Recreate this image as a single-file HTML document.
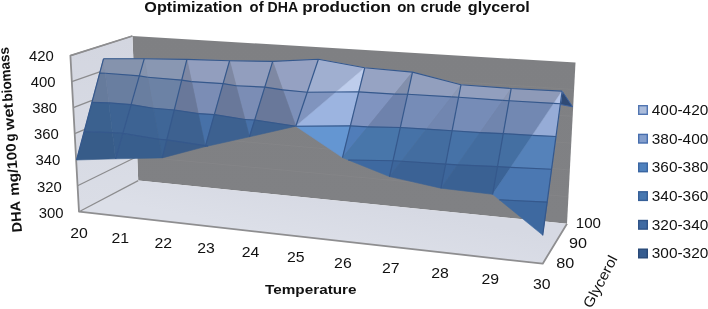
<!DOCTYPE html>
<html><head><meta charset="utf-8"><title>Optimization of DHA production on crude glycerol</title>
<style>html,body{margin:0;padding:0;background:#fff}svg{display:block}text{fill:#111}</style></head>
<body>
<svg width="708" height="309" viewBox="0 0 708 309">
<defs>
<linearGradient id="gbw" gradientUnits="userSpaceOnUse" x1="350" y1="40" x2="340" y2="215"><stop offset="0" stop-color="#7f8083"/><stop offset="1" stop-color="#808184"/></linearGradient>
<linearGradient id="gsw" gradientUnits="userSpaceOnUse" x1="100" y1="40" x2="108" y2="205"><stop offset="0" stop-color="#d3d6e0"/><stop offset="1" stop-color="#dadde6"/></linearGradient>
<linearGradient id="gfl" gradientUnits="userSpaceOnUse" x1="340" y1="195" x2="330" y2="245"><stop offset="0" stop-color="#d6d9e3"/><stop offset="1" stop-color="#dcdfe8"/></linearGradient>
</defs>
<rect width="708" height="309" fill="#fff"/>
<polygon points="132.4,36.0 575.5,62.6 567,223.7 138.2,180.6" fill="url(#gbw)"/>
<polygon points="70.4,55.6 132.4,36.0 138.2,180.6 79.0,211.7" fill="url(#gsw)"/>
<polygon points="79.0,211.7 138.2,180.6 567,223.7 542.7,263.7" fill="url(#gfl)"/>
<line x1="70.4" y1="55.6" x2="132.4" y2="36.0" stroke="#8c8c8e" stroke-width="1.25"/>
<line x1="71.8" y1="81.6" x2="133.4" y2="60.1" stroke="#8c8c8e" stroke-width="1.25"/>
<line x1="133.4" y1="60.1" x2="574.1" y2="89.5" stroke="#a0a0a3" stroke-opacity="0.13" stroke-width="1"/>
<line x1="73.3" y1="107.6" x2="134.3" y2="84.2" stroke="#8c8c8e" stroke-width="1.25"/>
<line x1="134.3" y1="84.2" x2="572.7" y2="116.3" stroke="#a0a0a3" stroke-opacity="0.13" stroke-width="1"/>
<line x1="74.7" y1="133.7" x2="135.3" y2="108.3" stroke="#8c8c8e" stroke-width="1.25"/>
<line x1="135.3" y1="108.3" x2="571.2" y2="143.2" stroke="#a0a0a3" stroke-opacity="0.13" stroke-width="1"/>
<line x1="76.1" y1="159.7" x2="136.3" y2="132.4" stroke="#8c8c8e" stroke-width="1.25"/>
<line x1="136.3" y1="132.4" x2="569.8" y2="170.0" stroke="#a0a0a3" stroke-opacity="0.13" stroke-width="1"/>
<line x1="77.6" y1="185.7" x2="137.2" y2="156.5" stroke="#8c8c8e" stroke-width="1.25"/>
<line x1="137.2" y1="156.5" x2="568.4" y2="196.8" stroke="#a0a0a3" stroke-opacity="0.13" stroke-width="1"/>
<line x1="79.0" y1="211.7" x2="138.2" y2="180.6" stroke="#8c8c8e" stroke-width="1.25"/>
<polyline points="132.4,36.0 70.4,55.6 79.0,211.7 542.7,263.7 567,223.7" fill="none" stroke="#8e8e90" stroke-width="1.8" stroke-linejoin="round"/>
<polygon points="562.1,91.1 572.6,106.8 560.5,104.5" fill="#2f4a75" stroke="#3d62a0" stroke-width="1"/>
<polygon points="103.5,58.8 144.2,58.8 139.3,75.9 105.3,73.3" fill="rgb(133, 147, 173)" stroke="rgb(133, 147, 173)" stroke-width="0.6"/>
<polygon points="139.3,75.9 131.1,104.6 108.8,102.9 105.3,73.3" fill="rgb(105, 126, 160)" stroke="rgb(105, 126, 160)" stroke-width="0.6"/>
<polygon points="131.1,104.6 122.9,133.4 112.4,132.6 108.8,102.9" fill="rgb(61, 99, 147)" stroke="rgb(61, 99, 147)" stroke-width="0.6"/>
<polygon points="122.9,133.4 115.6,158.8 112.4,132.6" fill="rgb(56, 94, 141)" stroke="rgb(56, 94, 141)" stroke-width="0.6"/>
<polygon points="103.5,58.8 105.3,73.3 99.7,73.1" fill="rgb(130, 143, 169)" stroke="rgb(130, 143, 169)" stroke-width="0.6"/>
<polygon points="105.3,73.3 108.8,102.9 91.9,102.4 99.7,73.1" fill="rgb(102, 123, 156)" stroke="rgb(102, 123, 156)" stroke-width="0.6"/>
<polygon points="108.8,102.9 112.4,132.6 84.2,131.6 91.9,102.4" fill="rgb(59, 97, 143)" stroke="rgb(59, 97, 143)" stroke-width="0.6"/>
<polygon points="112.4,132.6 115.6,158.8 76.6,160.0 84.2,131.6" fill="rgb(55, 92, 137)" stroke="rgb(55, 92, 137)" stroke-width="0.6"/>
<polygon points="144.2,58.8 186.9,59.4 181.7,80.1 147.6,77.3" fill="rgb(137, 151, 178)" stroke="rgb(137, 151, 178)" stroke-width="0.6"/>
<polygon points="181.7,80.1 174.3,110.0 153.2,108.3 147.6,77.3" fill="rgb(108, 130, 165)" stroke="rgb(108, 130, 165)" stroke-width="0.6"/>
<polygon points="174.3,110.0 166.8,139.9 158.9,139.3 153.2,108.3" fill="rgb(63, 102, 151)" stroke="rgb(63, 102, 151)" stroke-width="0.6"/>
<polygon points="166.8,139.9 162.3,157.9 158.9,139.3" fill="rgb(58, 97, 145)" stroke="rgb(58, 97, 145)" stroke-width="0.6"/>
<polygon points="144.2,58.8 147.6,77.3 139.3,75.9" fill="rgb(133, 147, 173)" stroke="rgb(133, 147, 173)" stroke-width="0.6"/>
<polygon points="147.6,77.3 153.2,108.3 131.1,104.6 139.3,75.9" fill="rgb(105, 126, 160)" stroke="rgb(105, 126, 160)" stroke-width="0.6"/>
<polygon points="153.2,108.3 158.9,139.3 122.9,133.4 131.1,104.6" fill="rgb(61, 99, 147)" stroke="rgb(61, 99, 147)" stroke-width="0.6"/>
<polygon points="158.9,139.3 162.3,157.9 115.6,158.8 122.9,133.4" fill="rgb(56, 94, 141)" stroke="rgb(56, 94, 141)" stroke-width="0.6"/>
<polygon points="186.9,59.4 229.6,60.7 223.1,83.6 191.6,81.6" fill="rgb(146, 158, 190)" stroke="rgb(146, 158, 190)" stroke-width="0.6"/>
<polygon points="223.1,83.6 214.4,114.6 198.3,113.6 191.6,81.6" fill="rgb(123, 141, 181)" stroke="rgb(123, 141, 181)" stroke-width="0.6"/>
<polygon points="214.4,114.6 205.6,145.6 205.1,145.6 198.3,113.6" fill="rgb(71, 113, 168)" stroke="rgb(71, 113, 168)" stroke-width="0.6"/>
<polygon points="205.6,145.6 205.3,146.6 205.1,145.6" fill="rgb(64, 102, 152)" stroke="rgb(64, 102, 152)" stroke-width="0.6"/>
<polygon points="186.9,59.4 191.6,81.6 181.7,80.1" fill="rgb(126, 136, 163)" stroke="rgb(126, 136, 163)" stroke-width="0.6"/>
<polygon points="191.6,81.6 198.3,113.6 174.3,110.0 181.7,80.1" fill="rgb(105, 120, 154)" stroke="rgb(105, 120, 154)" stroke-width="0.6"/>
<polygon points="198.3,113.6 205.1,145.6 166.8,139.9 174.3,110.0" fill="rgb(61, 97, 144)" stroke="rgb(61, 97, 144)" stroke-width="0.6"/>
<polygon points="205.1,145.6 205.3,146.6 162.3,157.9 166.8,139.9" fill="rgb(58, 92, 137)" stroke="rgb(58, 92, 137)" stroke-width="0.6"/>
<polygon points="229.6,60.7 272.7,61.4 264.8,87.1 236.1,85.7" fill="rgb(146, 158, 190)" stroke="rgb(146, 158, 190)" stroke-width="0.6"/>
<polygon points="264.8,87.1 254.7,120.0 245.0,119.5 236.1,85.7" fill="rgb(123, 141, 181)" stroke="rgb(123, 141, 181)" stroke-width="0.6"/>
<polygon points="254.7,120.0 249.5,136.8 245.0,119.5" fill="rgb(71, 113, 168)" stroke="rgb(71, 113, 168)" stroke-width="0.6"/>
<polygon points="229.6,60.7 236.1,85.7 223.1,83.6" fill="rgb(126, 136, 163)" stroke="rgb(126, 136, 163)" stroke-width="0.6"/>
<polygon points="236.1,85.7 245.0,119.5 214.4,114.6 223.1,83.6" fill="rgb(105, 120, 154)" stroke="rgb(105, 120, 154)" stroke-width="0.6"/>
<polygon points="245.0,119.5 249.5,136.8 208.1,146.0 205.6,145.6 214.4,114.6" fill="rgb(61, 97, 144)" stroke="rgb(61, 97, 144)" stroke-width="0.6"/>
<polygon points="208.1,146.0 205.3,146.6 205.6,145.6" fill="rgb(58, 92, 137)" stroke="rgb(58, 92, 137)" stroke-width="0.6"/>
<polygon points="272.7,61.4 318.4,59.3 307.3,92.2 282.8,89.9" fill="rgb(149, 161, 194)" stroke="rgb(149, 161, 194)" stroke-width="0.6"/>
<polygon points="307.3,92.2 295.8,126.2 295.8,126.2 282.8,89.9" fill="rgb(125, 144, 185)" stroke="rgb(125, 144, 185)" stroke-width="0.6"/>
<polygon points="295.8,126.2 295.8,126.2 295.8,126.2" fill="rgb(72, 115, 171)" stroke="rgb(72, 115, 171)" stroke-width="0.6"/>
<polygon points="272.7,61.4 282.8,89.9 264.8,87.1" fill="rgb(126, 136, 163)" stroke="rgb(126, 136, 163)" stroke-width="0.6"/>
<polygon points="282.8,89.9 295.8,126.2 254.7,120.0 264.8,87.1" fill="rgb(105, 120, 154)" stroke="rgb(105, 120, 154)" stroke-width="0.6"/>
<polygon points="295.8,126.2 295.8,126.2 249.5,136.8 254.7,120.0" fill="rgb(61, 97, 144)" stroke="rgb(61, 97, 144)" stroke-width="0.6"/>
<polygon points="318.4,59.3 364.7,67.8 336.1,92.0 307.3,92.2" fill="rgb(160, 175, 208)" stroke="rgb(160, 175, 208)" stroke-width="0.6"/>
<polygon points="336.1,92.0 295.8,126.2 295.8,126.2 307.3,92.2" fill="rgb(128, 148, 190)" stroke="rgb(128, 148, 190)" stroke-width="0.6"/>
<polygon points="295.8,126.2 295.8,126.2 295.8,126.2" fill="rgb(80, 125, 185)" stroke="rgb(80, 125, 185)" stroke-width="0.6"/>
<polygon points="364.7,67.8 358.7,91.9 336.1,92.0" fill="rgb(190, 205, 236)" stroke="rgb(190, 205, 236)" stroke-width="0.6"/>
<polygon points="358.7,91.9 350.3,125.9 295.8,126.2 336.1,92.0" fill="rgb(156, 180, 224)" stroke="rgb(156, 180, 224)" stroke-width="0.6"/>
<polygon points="350.3,125.9 342.5,157.6 295.8,126.2 295.8,126.2" fill="rgb(100, 150, 210)" stroke="rgb(100, 150, 210)" stroke-width="0.6"/>
<polygon points="364.7,67.8 412.5,72.1 394.5,94.1 358.7,91.9" fill="rgb(150, 163, 195)" stroke="rgb(150, 163, 195)" stroke-width="0.6"/>
<polygon points="394.5,94.1 367.6,126.9 350.3,125.9 358.7,91.9" fill="rgb(128, 148, 192)" stroke="rgb(128, 148, 192)" stroke-width="0.6"/>
<polygon points="367.6,126.9 342.5,157.6 350.3,125.9" fill="rgb(80, 125, 185)" stroke="rgb(80, 125, 185)" stroke-width="0.6"/>
<polygon points="412.5,72.1 407.6,94.3 394.5,94.1" fill="rgb(130, 143, 172)" stroke="rgb(130, 143, 172)" stroke-width="0.6"/>
<polygon points="407.6,94.3 400.3,127.5 367.6,126.9 394.5,94.1" fill="rgb(110, 130, 172)" stroke="rgb(110, 130, 172)" stroke-width="0.6"/>
<polygon points="400.3,127.5 393.0,160.7 348.3,160.0 342.5,157.6 367.6,126.9" fill="rgb(72, 118, 170)" stroke="rgb(72, 118, 170)" stroke-width="0.6"/>
<polygon points="393.0,160.7 389.5,176.6 348.3,160.0" fill="rgb(62, 105, 160)" stroke="rgb(62, 105, 160)" stroke-width="0.6"/>
<polygon points="412.5,72.1 461.0,84.7 451.5,96.9 407.6,94.3" fill="rgb(146, 159, 190)" stroke="rgb(146, 159, 190)" stroke-width="0.6"/>
<polygon points="451.5,96.9 426.5,129.1 400.3,127.5 407.6,94.3" fill="rgb(118, 140, 183)" stroke="rgb(118, 140, 183)" stroke-width="0.6"/>
<polygon points="426.5,129.1 401.5,161.2 393.0,160.7 400.3,127.5" fill="rgb(70, 114, 167)" stroke="rgb(70, 114, 167)" stroke-width="0.6"/>
<polygon points="401.5,161.2 389.5,176.6 393.0,160.7" fill="rgb(61, 102, 155)" stroke="rgb(61, 102, 155)" stroke-width="0.6"/>
<polygon points="461.0,84.7 458.6,97.3 451.5,96.9" fill="rgb(140, 153, 182)" stroke="rgb(140, 153, 182)" stroke-width="0.6"/>
<polygon points="458.6,97.3 452.1,130.7 426.5,129.1 451.5,96.9" fill="rgb(113, 134, 176)" stroke="rgb(113, 134, 176)" stroke-width="0.6"/>
<polygon points="452.1,130.7 445.7,164.1 401.5,161.2 426.5,129.1" fill="rgb(67, 109, 160)" stroke="rgb(67, 109, 160)" stroke-width="0.6"/>
<polygon points="445.7,164.1 441.0,188.2 389.5,176.6 401.5,161.2" fill="rgb(59, 98, 149)" stroke="rgb(59, 98, 149)" stroke-width="0.6"/>
<polygon points="461.0,84.7 511.2,88.5 502.8,100.4 458.6,97.3" fill="rgb(146, 159, 190)" stroke="rgb(146, 159, 190)" stroke-width="0.6"/>
<polygon points="502.8,100.4 480.1,132.6 452.1,130.7 458.6,97.3" fill="rgb(118, 140, 183)" stroke="rgb(118, 140, 183)" stroke-width="0.6"/>
<polygon points="480.1,132.6 457.4,164.9 445.7,164.1 452.1,130.7" fill="rgb(70, 114, 167)" stroke="rgb(70, 114, 167)" stroke-width="0.6"/>
<polygon points="457.4,164.9 441.0,188.2 445.7,164.1" fill="rgb(61, 102, 155)" stroke="rgb(61, 102, 155)" stroke-width="0.6"/>
<polygon points="511.2,88.5 509.1,100.7 502.8,100.4" fill="rgb(139, 151, 180)" stroke="rgb(139, 151, 180)" stroke-width="0.6"/>
<polygon points="509.1,100.7 503.3,133.6 480.1,132.6 502.8,100.4" fill="rgb(112, 133, 174)" stroke="rgb(112, 133, 174)" stroke-width="0.6"/>
<polygon points="503.3,133.6 497.5,166.6 457.4,164.9 480.1,132.6" fill="rgb(66, 108, 159)" stroke="rgb(66, 108, 159)" stroke-width="0.6"/>
<polygon points="497.5,166.6 492.6,194.3 441.0,188.2 457.4,164.9" fill="rgb(58, 97, 147)" stroke="rgb(58, 97, 147)" stroke-width="0.6"/>
<polygon points="511.2,88.5 562.1,91.1 553.8,103.4 509.1,100.7" fill="rgb(142, 154, 184)" stroke="rgb(142, 154, 184)" stroke-width="0.6"/>
<polygon points="553.8,103.4 532.3,135.4 503.3,133.6 509.1,100.7" fill="rgb(114, 136, 178)" stroke="rgb(114, 136, 178)" stroke-width="0.6"/>
<polygon points="532.3,135.4 510.7,167.4 497.5,166.6 503.3,133.6" fill="rgb(68, 111, 162)" stroke="rgb(68, 111, 162)" stroke-width="0.6"/>
<polygon points="510.7,167.4 492.6,194.3 497.5,166.6" fill="rgb(59, 99, 150)" stroke="rgb(59, 99, 150)" stroke-width="0.6"/>
<polygon points="562.1,91.1 560.4,103.7 553.8,103.4" fill="rgb(178, 194, 230)" stroke="rgb(178, 194, 230)" stroke-width="0.6"/>
<polygon points="560.4,103.7 556.0,136.5 532.3,135.4 553.8,103.4" fill="rgb(150, 172, 215)" stroke="rgb(150, 172, 215)" stroke-width="0.6"/>
<polygon points="556.0,136.5 551.6,169.3 510.7,167.4 532.3,135.4" fill="rgb(85, 130, 186)" stroke="rgb(85, 130, 186)" stroke-width="0.6"/>
<polygon points="551.6,169.3 547.2,202.1 499.4,199.8 492.6,194.3 510.7,167.4" fill="rgb(75, 120, 178)" stroke="rgb(75, 120, 178)" stroke-width="0.6"/>
<polygon points="547.2,202.1 542.7,234.9 542.3,234.8 499.4,199.8" fill="rgb(62, 105, 160)" stroke="rgb(62, 105, 160)" stroke-width="0.6"/>
<polygon points="542.7,234.9 542.7,235.2 542.3,234.8" fill="rgb(55, 95, 148)" stroke="rgb(55, 95, 148)" stroke-width="0.6"/>
<line x1="122.9" y1="133.4" x2="112.4" y2="132.6" stroke="#35588c" stroke-width="1.15"/>
<line x1="131.1" y1="104.6" x2="108.8" y2="102.9" stroke="#35588c" stroke-width="1.15"/>
<line x1="139.3" y1="75.9" x2="105.3" y2="73.3" stroke="#35588c" stroke-width="1.15"/>
<line x1="112.4" y1="132.6" x2="84.2" y2="131.6" stroke="#35588c" stroke-width="1.15"/>
<line x1="108.8" y1="102.9" x2="91.9" y2="102.4" stroke="#35588c" stroke-width="1.15"/>
<line x1="105.3" y1="73.3" x2="99.7" y2="73.1" stroke="#35588c" stroke-width="1.15"/>
<line x1="166.8" y1="139.9" x2="158.9" y2="139.3" stroke="#35588c" stroke-width="1.15"/>
<line x1="174.3" y1="110.0" x2="153.2" y2="108.3" stroke="#35588c" stroke-width="1.15"/>
<line x1="181.7" y1="80.1" x2="147.6" y2="77.3" stroke="#35588c" stroke-width="1.15"/>
<line x1="158.9" y1="139.3" x2="122.9" y2="133.4" stroke="#35588c" stroke-width="1.15"/>
<line x1="153.2" y1="108.3" x2="131.1" y2="104.6" stroke="#35588c" stroke-width="1.15"/>
<line x1="147.6" y1="77.3" x2="139.3" y2="75.9" stroke="#35588c" stroke-width="1.15"/>
<line x1="205.6" y1="145.6" x2="205.1" y2="145.6" stroke="#35588c" stroke-width="1.15"/>
<line x1="214.4" y1="114.6" x2="198.3" y2="113.6" stroke="#35588c" stroke-width="1.15"/>
<line x1="223.1" y1="83.6" x2="191.6" y2="81.6" stroke="#35588c" stroke-width="1.15"/>
<line x1="205.1" y1="145.6" x2="166.8" y2="139.9" stroke="#35588c" stroke-width="1.15"/>
<line x1="198.3" y1="113.6" x2="174.3" y2="110.0" stroke="#35588c" stroke-width="1.15"/>
<line x1="191.6" y1="81.6" x2="181.7" y2="80.1" stroke="#35588c" stroke-width="1.15"/>
<line x1="254.7" y1="120.0" x2="245.0" y2="119.5" stroke="#35588c" stroke-width="1.15"/>
<line x1="264.8" y1="87.1" x2="236.1" y2="85.7" stroke="#35588c" stroke-width="1.15"/>
<line x1="208.1" y1="146.0" x2="205.6" y2="145.6" stroke="#35588c" stroke-width="1.15"/>
<line x1="245.0" y1="119.5" x2="214.4" y2="114.6" stroke="#35588c" stroke-width="1.15"/>
<line x1="236.1" y1="85.7" x2="223.1" y2="83.6" stroke="#35588c" stroke-width="1.15"/>
<line x1="295.8" y1="126.2" x2="295.8" y2="126.2" stroke="#35588c" stroke-width="1.15"/>
<line x1="307.3" y1="92.2" x2="282.8" y2="89.9" stroke="#35588c" stroke-width="1.15"/>
<line x1="295.8" y1="126.2" x2="254.7" y2="120.0" stroke="#35588c" stroke-width="1.15"/>
<line x1="282.8" y1="89.9" x2="264.8" y2="87.1" stroke="#35588c" stroke-width="1.15"/>
<line x1="295.8" y1="126.2" x2="295.8" y2="126.2" stroke="#35588c" stroke-width="1.15"/>
<line x1="336.1" y1="92.0" x2="307.3" y2="92.2" stroke="#35588c" stroke-width="1.15"/>
<line x1="350.3" y1="125.9" x2="295.8" y2="126.2" stroke="#35588c" stroke-width="1.15"/>
<line x1="358.7" y1="91.9" x2="336.1" y2="92.0" stroke="#35588c" stroke-width="1.15"/>
<line x1="367.6" y1="126.9" x2="350.3" y2="125.9" stroke="#35588c" stroke-width="1.15"/>
<line x1="394.5" y1="94.1" x2="358.7" y2="91.9" stroke="#35588c" stroke-width="1.15"/>
<line x1="393.0" y1="160.7" x2="348.3" y2="160.0" stroke="#35588c" stroke-width="1.15"/>
<line x1="400.3" y1="127.5" x2="367.6" y2="126.9" stroke="#35588c" stroke-width="1.15"/>
<line x1="407.6" y1="94.3" x2="394.5" y2="94.1" stroke="#35588c" stroke-width="1.15"/>
<line x1="401.5" y1="161.2" x2="393.0" y2="160.7" stroke="#35588c" stroke-width="1.15"/>
<line x1="426.5" y1="129.1" x2="400.3" y2="127.5" stroke="#35588c" stroke-width="1.15"/>
<line x1="451.5" y1="96.9" x2="407.6" y2="94.3" stroke="#35588c" stroke-width="1.15"/>
<line x1="445.7" y1="164.1" x2="401.5" y2="161.2" stroke="#35588c" stroke-width="1.15"/>
<line x1="452.1" y1="130.7" x2="426.5" y2="129.1" stroke="#35588c" stroke-width="1.15"/>
<line x1="458.6" y1="97.3" x2="451.5" y2="96.9" stroke="#35588c" stroke-width="1.15"/>
<line x1="457.4" y1="164.9" x2="445.7" y2="164.1" stroke="#35588c" stroke-width="1.15"/>
<line x1="480.1" y1="132.6" x2="452.1" y2="130.7" stroke="#35588c" stroke-width="1.15"/>
<line x1="502.8" y1="100.4" x2="458.6" y2="97.3" stroke="#35588c" stroke-width="1.15"/>
<line x1="497.5" y1="166.6" x2="457.4" y2="164.9" stroke="#35588c" stroke-width="1.15"/>
<line x1="503.3" y1="133.6" x2="480.1" y2="132.6" stroke="#35588c" stroke-width="1.15"/>
<line x1="509.1" y1="100.7" x2="502.8" y2="100.4" stroke="#35588c" stroke-width="1.15"/>
<line x1="510.7" y1="167.4" x2="497.5" y2="166.6" stroke="#35588c" stroke-width="1.15"/>
<line x1="532.3" y1="135.4" x2="503.3" y2="133.6" stroke="#35588c" stroke-width="1.15"/>
<line x1="553.8" y1="103.4" x2="509.1" y2="100.7" stroke="#35588c" stroke-width="1.15"/>
<line x1="542.7" y1="234.9" x2="542.3" y2="234.8" stroke="#35588c" stroke-width="1.15"/>
<line x1="547.2" y1="202.1" x2="499.4" y2="199.8" stroke="#35588c" stroke-width="1.15"/>
<line x1="551.6" y1="169.3" x2="510.7" y2="167.4" stroke="#35588c" stroke-width="1.15"/>
<line x1="556.0" y1="136.5" x2="532.3" y2="135.4" stroke="#35588c" stroke-width="1.15"/>
<line x1="560.4" y1="103.7" x2="553.8" y2="103.4" stroke="#35588c" stroke-width="1.15"/>
<line x1="103.5" y1="58.8" x2="76.6" y2="160.0" stroke="#35588c" stroke-width="1.2"/>
<line x1="144.2" y1="58.8" x2="115.6" y2="158.8" stroke="#35588c" stroke-width="1.2"/>
<line x1="186.9" y1="59.4" x2="162.3" y2="157.9" stroke="#35588c" stroke-width="1.2"/>
<line x1="229.6" y1="60.7" x2="205.3" y2="146.6" stroke="#35588c" stroke-width="1.2"/>
<line x1="272.7" y1="61.4" x2="249.5" y2="136.8" stroke="#35588c" stroke-width="1.2"/>
<line x1="318.4" y1="59.3" x2="295.8" y2="126.2" stroke="#35588c" stroke-width="1.2"/>
<line x1="364.7" y1="67.8" x2="342.5" y2="157.6" stroke="#35588c" stroke-width="1.2"/>
<line x1="412.5" y1="72.1" x2="389.5" y2="176.6" stroke="#35588c" stroke-width="1.2"/>
<line x1="461" y1="84.7" x2="441" y2="188.2" stroke="#35588c" stroke-width="1.2"/>
<line x1="511.2" y1="88.5" x2="492.6" y2="194.3" stroke="#35588c" stroke-width="1.2"/>
<line x1="562.1" y1="91.1" x2="542.7" y2="235.2" stroke="#35588c" stroke-width="1.2"/>
<polyline points="103.5,58.8 144.2,58.8 186.9,59.4 229.6,60.7 272.7,61.4 318.4,59.3 364.7,67.8 412.5,72.1 461,84.7 511.2,88.5 562.1,91.1" fill="none" stroke="#35588c" stroke-width="1.1"/>
<text y="11.8" font-family="Liberation Sans, sans-serif" font-size="14.2" font-weight="bold"><tspan x="144.3" textLength="98.0" lengthAdjust="spacingAndGlyphs">Optimization</tspan> <tspan x="249.6" textLength="14.0" lengthAdjust="spacingAndGlyphs">of</tspan> <tspan x="267.6" textLength="30.0" lengthAdjust="spacingAndGlyphs">DHA</tspan> <tspan x="302.2" textLength="88.8" lengthAdjust="spacingAndGlyphs">production</tspan> <tspan x="397.2" textLength="18.3" lengthAdjust="spacingAndGlyphs">on</tspan> <tspan x="420.6" textLength="40.8" lengthAdjust="spacingAndGlyphs">crude</tspan> <tspan x="467.8" textLength="62.0" lengthAdjust="spacingAndGlyphs">glycerol</tspan></text>
<text transform="translate(21.9,231.5) rotate(-94.15)" y="0" font-family="Liberation Sans, sans-serif" font-size="14" font-weight="bold"><tspan x="-0.5" textLength="30.7" lengthAdjust="spacingAndGlyphs">DHA</tspan> <tspan x="36.0" textLength="52.6" lengthAdjust="spacingAndGlyphs">mg/100</tspan> <tspan x="90.6" textLength="8.0" lengthAdjust="spacingAndGlyphs">g</tspan> <tspan x="101.9" textLength="27.0" lengthAdjust="spacingAndGlyphs">wet</tspan> <tspan x="130.5" textLength="54.8" lengthAdjust="spacingAndGlyphs">biomass</tspan></text>
<text x="53.9" y="60.7" text-anchor="end" font-family="Liberation Sans, sans-serif" font-size="15" textLength="24.8" lengthAdjust="spacingAndGlyphs">420</text>
<text x="55.5" y="86.9" text-anchor="end" font-family="Liberation Sans, sans-serif" font-size="15" textLength="24.8" lengthAdjust="spacingAndGlyphs">400</text>
<text x="57.1" y="113.0" text-anchor="end" font-family="Liberation Sans, sans-serif" font-size="15" textLength="24.8" lengthAdjust="spacingAndGlyphs">380</text>
<text x="58.7" y="139.2" text-anchor="end" font-family="Liberation Sans, sans-serif" font-size="15" textLength="24.8" lengthAdjust="spacingAndGlyphs">360</text>
<text x="60.3" y="165.4" text-anchor="end" font-family="Liberation Sans, sans-serif" font-size="15" textLength="24.8" lengthAdjust="spacingAndGlyphs">340</text>
<text x="61.9" y="191.6" text-anchor="end" font-family="Liberation Sans, sans-serif" font-size="15" textLength="24.8" lengthAdjust="spacingAndGlyphs">320</text>
<text x="63.5" y="217.7" text-anchor="end" font-family="Liberation Sans, sans-serif" font-size="15" textLength="24.8" lengthAdjust="spacingAndGlyphs">300</text>
<text x="79" y="238.3" text-anchor="middle" font-family="Liberation Sans, sans-serif" font-size="15" textLength="17.6" lengthAdjust="spacingAndGlyphs">20</text>
<text x="120.2" y="243" text-anchor="middle" font-family="Liberation Sans, sans-serif" font-size="15" textLength="17.6" lengthAdjust="spacingAndGlyphs">21</text>
<text x="163.2" y="247.6" text-anchor="middle" font-family="Liberation Sans, sans-serif" font-size="15" textLength="17.6" lengthAdjust="spacingAndGlyphs">22</text>
<text x="206" y="252.8" text-anchor="middle" font-family="Liberation Sans, sans-serif" font-size="15" textLength="17.6" lengthAdjust="spacingAndGlyphs">23</text>
<text x="250.5" y="256.8" text-anchor="middle" font-family="Liberation Sans, sans-serif" font-size="15" textLength="17.6" lengthAdjust="spacingAndGlyphs">24</text>
<text x="295.8" y="262" text-anchor="middle" font-family="Liberation Sans, sans-serif" font-size="15" textLength="17.6" lengthAdjust="spacingAndGlyphs">25</text>
<text x="342.9" y="267.6" text-anchor="middle" font-family="Liberation Sans, sans-serif" font-size="15" textLength="17.6" lengthAdjust="spacingAndGlyphs">26</text>
<text x="390.7" y="272.7" text-anchor="middle" font-family="Liberation Sans, sans-serif" font-size="15" textLength="17.6" lengthAdjust="spacingAndGlyphs">27</text>
<text x="440" y="278.1" text-anchor="middle" font-family="Liberation Sans, sans-serif" font-size="15" textLength="17.6" lengthAdjust="spacingAndGlyphs">28</text>
<text x="490.3" y="283.7" text-anchor="middle" font-family="Liberation Sans, sans-serif" font-size="15" textLength="17.6" lengthAdjust="spacingAndGlyphs">29</text>
<text x="541.8" y="289.3" text-anchor="middle" font-family="Liberation Sans, sans-serif" font-size="15" textLength="17.6" lengthAdjust="spacingAndGlyphs">30</text>
<text x="310.8" y="293.9" text-anchor="middle" font-family="Liberation Sans, sans-serif" font-size="13.4" font-weight="bold" textLength="91.5" lengthAdjust="spacingAndGlyphs">Temperature</text>
<text x="588.4" y="228.2" text-anchor="middle" font-family="Liberation Sans, sans-serif" font-size="15" textLength="25.2" lengthAdjust="spacingAndGlyphs">100</text>
<text x="577.9" y="247.7" text-anchor="middle" font-family="Liberation Sans, sans-serif" font-size="15" textLength="18" lengthAdjust="spacingAndGlyphs">90</text>
<text x="565.2" y="267.5" text-anchor="middle" font-family="Liberation Sans, sans-serif" font-size="15" textLength="18" lengthAdjust="spacingAndGlyphs">80</text>
<text transform="translate(604.6,283.8) rotate(-62)" text-anchor="middle" font-family="Liberation Sans, sans-serif" font-size="14.5" textLength="57" lengthAdjust="spacingAndGlyphs">Glycerol</text>
<rect x="638.7" y="105.7" width="8.6" height="8.6" fill="#abbcdb" stroke="#5276b2" stroke-width="1.4"/>
<text x="651.8" y="114.9" font-family="Liberation Sans, sans-serif" font-size="15" textLength="56.5" lengthAdjust="spacingAndGlyphs">400-420</text>
<rect x="638.7" y="134.4" width="8.6" height="8.6" fill="#839ecd" stroke="#476eae" stroke-width="1.4"/>
<text x="651.8" y="143.6" font-family="Liberation Sans, sans-serif" font-size="15" textLength="56.5" lengthAdjust="spacingAndGlyphs">380-400</text>
<rect x="638.7" y="163.1" width="8.6" height="8.6" fill="#4f81bd" stroke="#3a66a3" stroke-width="1.4"/>
<text x="651.8" y="172.3" font-family="Liberation Sans, sans-serif" font-size="15" textLength="56.5" lengthAdjust="spacingAndGlyphs">360-380</text>
<rect x="638.7" y="191.8" width="8.6" height="8.6" fill="#4777b0" stroke="#365f98" stroke-width="1.4"/>
<text x="651.8" y="201.0" font-family="Liberation Sans, sans-serif" font-size="15" textLength="56.5" lengthAdjust="spacingAndGlyphs">340-360</text>
<rect x="638.7" y="220.5" width="8.6" height="8.6" fill="#3f6aa2" stroke="#305488" stroke-width="1.4"/>
<text x="651.8" y="229.7" font-family="Liberation Sans, sans-serif" font-size="15" textLength="56.5" lengthAdjust="spacingAndGlyphs">320-340</text>
<rect x="638.7" y="249.2" width="8.6" height="8.6" fill="#365d90" stroke="#294a78" stroke-width="1.4"/>
<text x="651.8" y="258.4" font-family="Liberation Sans, sans-serif" font-size="15" textLength="56.5" lengthAdjust="spacingAndGlyphs">300-320</text>
</svg>
</body></html>
